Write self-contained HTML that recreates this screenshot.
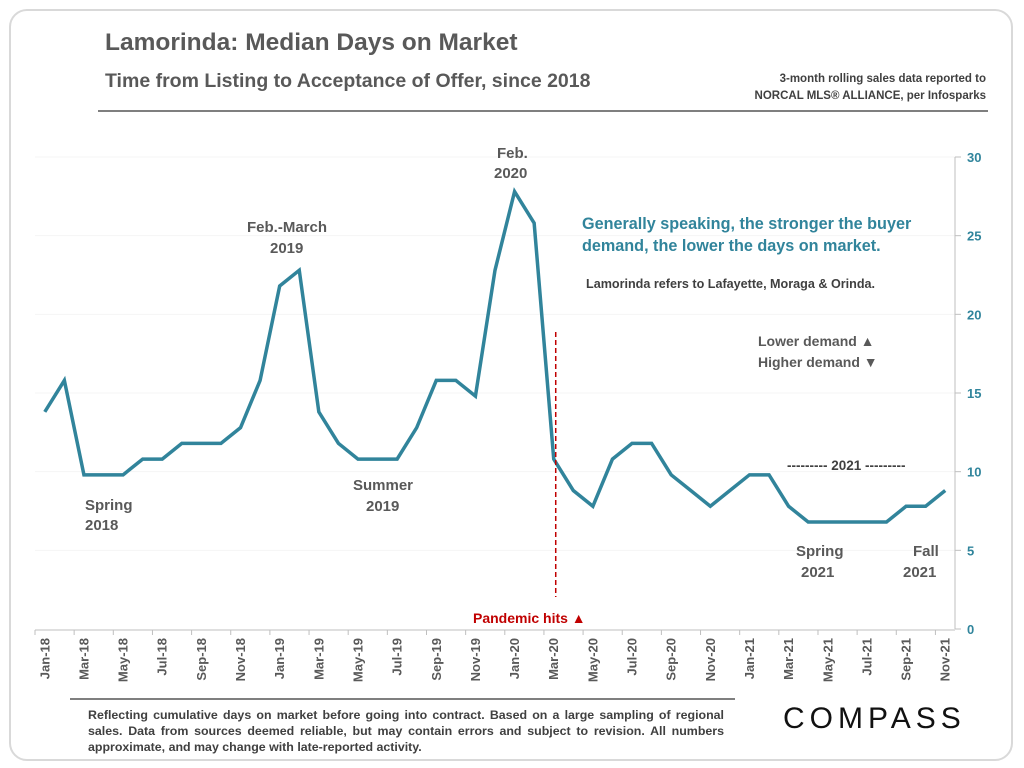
<!DOCTYPE html>
<html><head><meta charset="utf-8"><style>
body{margin:0;width:1024px;height:768px;background:#fff;font-family:"Liberation Sans",Calibri,sans-serif;overflow:hidden}
.card{position:absolute;left:9px;top:9px;width:1004px;height:752px;border:2px solid #d9d9d9;border-radius:18px;box-sizing:border-box}
.t{position:absolute;color:#595959;font-weight:bold;white-space:nowrap}
</style></head><body>
<div class="card"></div>
<div class="t" style="left:105px;top:29px;font-size:24.5px">Lamorinda: Median Days on Market</div>
<div class="t" style="left:105px;top:70px;font-size:19.5px">Time from Listing to Acceptance of Offer, since 2018</div>
<div class="t" style="right:38px;top:71px;font-size:11.5px;text-align:right;line-height:17px;color:#404040">3-month rolling sales data reported to<br>NORCAL MLS® ALLIANCE, per Infosparks</div>
<div style="position:absolute;left:98px;top:110px;width:890px;height:2px;background:#7f7f7f"></div>
<svg id="chart" width="1024" height="768" style="position:absolute;left:0;top:0"></svg>
<div style="position:absolute;left:70px;top:698px;width:665px;height:2px;background:#7f7f7f"></div>
<div class="t" style="left:88px;top:707px;font-size:12.4px;line-height:16px;color:#404040;white-space:normal;width:636px;text-align:justify">Reflecting cumulative days on market before going into contract. Based on a large sampling of regional sales. Data from sources deemed reliable, but may contain errors and subject to revision. All numbers approximate, and may change with late-reported activity.</div>
<div style="position:absolute;left:783px;top:702px;font-size:30px;letter-spacing:5px;color:#111;font-family:'Liberation Sans',sans-serif">COMPASS</div>
<script>
const categories=["Jan-18","Feb-18","Mar-18","Apr-18","May-18","Jun-18","Jul-18","Aug-18","Sep-18","Oct-18","Nov-18","Dec-18","Jan-19","Feb-19","Mar-19","Apr-19","May-19","Jun-19","Jul-19","Aug-19","Sep-19","Oct-19","Nov-19","Dec-19","Jan-20","Feb-20","Mar-20","Apr-20","May-20","Jun-20","Jul-20","Aug-20","Sep-20","Oct-20","Nov-20","Dec-20","Jan-21","Feb-21","Mar-21","Apr-21","May-21","Jun-21","Jul-21","Aug-21","Sep-21","Oct-21","Nov-21"];
const values=[13.8,15.8,9.8,9.8,9.8,10.8,10.8,11.8,11.8,11.8,12.8,15.8,21.8,22.8,13.8,11.8,10.8,10.8,10.8,12.8,15.8,15.8,14.8,22.8,27.8,25.8,10.8,8.8,7.8,10.8,11.8,11.8,9.8,8.8,7.8,8.8,9.8,9.8,7.8,6.8,6.8,6.8,6.8,6.8,7.8,7.8,8.8];
const yTicks=[0,5,10,15,20,25,30];
const NS="http://www.w3.org/2000/svg",svg=document.getElementById('chart');
const x0=35,x1=955,y0=629,y1=157,yMax=30;
const bw=(x1-x0)/categories.length;
const X=i=>x0+bw*(i+0.5), Y=v=>y0-(v/yMax)*(y0-y1);
function mk(t,a){const e=document.createElementNS(NS,t);for(const k in a)e.setAttribute(k,a[k]);svg.appendChild(e);return e;}
yTicks.forEach(v=>{
 if(v>0){const g=mk('line',{x1:x0,x2:x1,y1:Y(v),y2:Y(v),stroke:'#f4f4f4','stroke-width':1});
 
 }
 const tk=mk('line',{x1:x1,x2:x1+6,y1:Y(v),y2:Y(v),stroke:'#bfbfbf'});
 
 
 const t=mk('text',{x:x1+12,y:Y(v)+5,'font-size':13,'font-weight':'bold',fill:'#31859c','font-family':'Liberation Sans, sans-serif'});
 t.textContent=v;
 
 
});
const ya=mk('line',{x1:x1,x2:x1,y1:y1,y2:y0,stroke:'#bfbfbf'});


const xa=mk('line',{x1:x0,x2:x1,y1:y0+1,y2:y0+1,stroke:'#bfbfbf'});


categories.forEach((c,i)=>{
 if(i%2===0){const tk=mk('line',{x1:x0+bw*i,x2:x0+bw*i,y1:y0+1,y2:y0+6,stroke:'#bfbfbf'});
 
 
 const t=mk('text',{x:0,y:0,'font-size':13,'font-weight':'bold',fill:'#595959','text-anchor':'end','font-family':'Liberation Sans, sans-serif',transform:`translate(${X(i)+4.5},${y0+9}) rotate(-90)`});
 t.textContent=c;
 
 }
});
const pl=mk('polyline',{points:values.map((v,i)=>X(i)+','+Y(v)).join(' '),fill:'none',stroke:'#31849b','stroke-width':3.5,'stroke-linejoin':'miter'});


const pi=categories.indexOf("Mar-20");
const pd=mk('line',{x1:X(pi)+2,x2:X(pi)+2,y1:332,y2:597,stroke:'#c00000','stroke-width':1.5,'stroke-dasharray':'5,3'});


const labels=[["Spring",85,510],["2018",85,530],["Feb.-March",247,232],["2019",270,253],["Summer",353,490],["2019",366,511],["Feb.",497,158],["2020",494,178],["Spring",796,556],["2021",801,577],["Fall",913,556],["2021",903,577]];
labels.forEach(l=>{const t=mk('text',{x:l[1],y:l[2],'font-size':15,'font-weight':'bold',fill:'#595959','font-family':'Liberation Sans, sans-serif'});t.textContent=l[0];
 
 });
function txt(s,x,y,sz,fill,name,anchor){const t=mk('text',{x:x,y:y,'font-size':sz,'font-weight':'bold',fill:fill,'font-family':'Liberation Sans, sans-serif','text-anchor':anchor||'start'});t.textContent=s;
 
 }
txt("Generally speaking, the stronger the buyer",582,229,16.2,'#31849b','insight-line-1');
txt("demand, the lower the days on market.",582,251,16.2,'#31849b','insight-line-2');
txt("Lamorinda refers to Lafayette, Moraga & Orinda.",586,288,12.6,'#404040','region-note');
txt("Lower demand  ▲",758,346,14,'#595959','lower-demand-note');
txt("Higher demand ▼",758,367,14,'#595959','higher-demand-note');
txt("--------- 2021 ---------",787,470,13.5,'#404040','year-2021-bracket');
txt("Pandemic hits ▲",473,623,14,'#c00000','pandemic-label');
</script>
</body></html>
